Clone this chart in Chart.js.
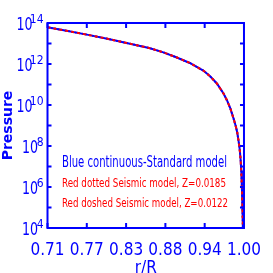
<!DOCTYPE html>
<html>
<head>
<meta charset="utf-8">
<script src="https://cdn.jsdelivr.net/npm/chart.js@4.4.1/dist/chart.umd.min.js"></script>
<style>
  html, body { margin: 0; padding: 0; background: #fff; }
  #wrap { width: 273px; height: 273px; }
</style>
</head>
<body>
<div id="wrap"><canvas id="c"></canvas></div>
<script>
// r/R sample points
const radius = [0.71, 0.74, 0.77, 0.80, 0.83, 0.86, 0.88, 0.90, 0.92, 0.94, 0.95, 0.96, 0.97, 0.975, 0.98, 0.985, 0.988, 0.99, 0.992, 0.9935, 0.995, 0.996, 0.997, 0.998, 0.9988];
// pressure, standard model
const pStandard = [6.17e13, 4.07e13, 2.63e13, 1.66e13, 1.0e13, 6.03e12, 3.8e12, 2.14e12, 1.12e12, 4.79e11, 2.51e11, 1.12e11, 3.55e10, 1.66e10, 6.6e9, 2.0e9, 8.9e8, 4.7e8, 1.78e8, 7.9e7, 2.24e7, 6.3e6, 7.9e5, 4.0e4, 2.0e3];
// pressure, seismic models (they lie on top of the standard one)
const pZ0185 = [6.17e13, 4.07e13, 2.63e13, 1.66e13, 1.0e13, 6.03e12, 3.8e12, 2.14e12, 1.12e12, 4.79e11, 2.51e11, 1.12e11, 3.55e10, 1.66e10, 6.6e9, 2.0e9, 8.9e8, 4.7e8, 1.78e8, 7.9e7, 2.24e7, 6.3e6, 7.9e5, 4.0e4, 2.0e3];
const pZ0122 = [6.17e13, 4.07e13, 2.63e13, 1.66e13, 1.0e13, 6.03e12, 3.8e12, 2.14e12, 1.12e12, 4.79e11, 2.51e11, 1.12e11, 3.55e10, 1.66e10, 6.6e9, 2.0e9, 8.9e8, 4.7e8, 1.78e8, 7.9e7, 2.24e7, 6.3e6, 9.0e5, 5.0e4, 3.0e3];

const xTickLabels = ['0.71', '0.77', '0.83', '0.88', '0.94', '1.00'];
const yExponents = [4, 5, 6, 7, 8, 9, 10, 11, 12, 13, 14];

const legendLines = [
    {text: 'Blue continuous-Standard model', color: '#0000ff', size: 15, y: 167, w: 165},
    {text: 'Red dotted Seismic model, Z=0.0185', color: '#ff0000', size: 11.5, y: 187, w: 164},
    {text: 'Red doshed Seismic model, Z=0.0122', color: '#ff0000', size: 11.5, y: 207, w: 166}
];

const BLUE = '#0000ff';
const RED = '#ff0000';
const NARROW = "'Liberation Sans Narrow', 'DejaVu Sans Condensed', sans-serif";

function pts(ys) {
    return radius.map((r, i) => ({x: r, y: ys[i]}));
}

// draw text squeezed horizontally to a given width
function fitText(ctx, text, x, y, width, align) {
    const m = ctx.measureText(text).width;
    const sx = width ? width / m : 1;
    ctx.save();
    ctx.translate(x, y);
    ctx.scale(sx, 1);
    ctx.textAlign = align || 'left';
    ctx.fillText(text, 0, 0);
    ctx.restore();
    return m * sx;
}

const frame = {
    id: 'frame',
    afterDraw(chart) {
        const ctx = chart.ctx;
        const a = chart.chartArea;
        const xs = chart.scales.x, ys = chart.scales.y;
        ctx.save();
        ctx.strokeStyle = BLUE;
        ctx.lineWidth = 2;
        ctx.strokeRect(a.left, a.top, a.right - a.left, a.bottom - a.top);

        ctx.beginPath();
        xs.ticks.forEach(t => {
            const px = xs.getPixelForValue(t.value);
            ctx.moveTo(px, a.bottom); ctx.lineTo(px, a.bottom - 5);
            ctx.moveTo(px, a.top); ctx.lineTo(px, a.top + 5);
        });
        ys.ticks.forEach(t => {
            const py = ys.getPixelForValue(t.value);
            ctx.moveTo(a.left, py); ctx.lineTo(a.left + 4, py);
            ctx.moveTo(a.right, py); ctx.lineTo(a.right - 4, py);
        });
        ctx.stroke();

        // y tick labels as 10 with a raised exponent
        ctx.fillStyle = BLUE;
        ctx.textBaseline = 'alphabetic';
        ys.ticks.forEach((t, i) => {
            const e = yExponents[i];
            if (e % 2) return;
            const py = ys.getPixelForValue(t.value);
            ctx.font = '12px ' + NARROW;
            const ew = fitText(ctx, String(e), a.left - 4, py - 0.5, null, 'right');
            ctx.save();
            ctx.font = '18px ' + NARROW;
            ctx.translate(a.left - 4 - ew * 0.8, py + 6.5);
            ctx.scale(0.78, 1);
            ctx.textAlign = 'right';
            ctx.fillText('10', 0, 0);
            ctx.restore();
        });

        legendLines.forEach(l => {
            ctx.fillStyle = l.color;
            ctx.font = l.size + 'px ' + NARROW;
            fitText(ctx, l.text, 62, l.y, l.w, 'left');
        });
        ctx.restore();
    }
};

new Chart(document.getElementById('c'), {
    type: 'line',
    data: {
        datasets: [{
            label: 'Seismic model, Z=0.0185',
            data: pts(pZ0185),
            borderColor: RED,
            borderWidth: 2,
            borderDash: [1.5, 2],
            order: 3
        }, {
            label: 'Standard model',
            data: pts(pStandard),
            borderColor: BLUE,
            borderWidth: 2,
            order: 2
        }, {
            label: 'Seismic model, Z=0.0122',
            data: pts(pZ0122),
            borderColor: RED,
            borderWidth: 2,
            borderDash: [3, 3],
            order: 1
        }]
    },
    options: {
        responsive: true,
        maintainAspectRatio: false,
        animation: false,
        layout: {padding: {top: 23, right: 14, left: 0, bottom: 0}},
        elements: {
            point: {radius: 0},
            line: {tension: 0, fill: false}
        },
        plugins: {legend: {display: false}, tooltip: {enabled: false}},
        scales: {
            x: {
                type: 'linear',
                min: 0.71,
                max: 1.0,
                afterBuildTicks: s => {
                    s.ticks = xTickLabels.map((l, i) => ({value: 0.71 + i * 0.29 / (xTickLabels.length - 1)}));
                },
                afterFit: s => { s.height = 45; },
                grid: {display: false, drawTicks: false},
                border: {display: false},
                ticks: {
                    callback: (v, i) => xTickLabels[i],
                    color: BLUE,
                    font: {family: NARROW, size: 17},
                    padding: 12,
                    maxRotation: 0,
                    autoSkip: false
                },
                title: {
                    display: true,
                    text: 'r/R',
                    color: BLUE,
                    font: {family: NARROW, size: 17},
                    padding: {top: 0, bottom: -6}
                }
            },
            y: {
                type: 'logarithmic',
                min: 1e4,
                max: 1e14,
                afterBuildTicks: s => {
                    s.ticks = yExponents.map(e => ({value: Math.pow(10, e)}));
                },
                afterFit: s => { s.width = 47.5; },
                grid: {display: false, drawTicks: false},
                border: {display: false},
                ticks: {display: false},
                title: {
                    display: true,
                    text: 'Pressure',
                    color: BLUE,
                    font: {family: 'DejaVu Sans', size: 14, weight: 'bold'},
                    padding: {top: 0, bottom: 0}
                }
            }
        }
    },
    plugins: [frame]
});
</script>
</body>
</html>
